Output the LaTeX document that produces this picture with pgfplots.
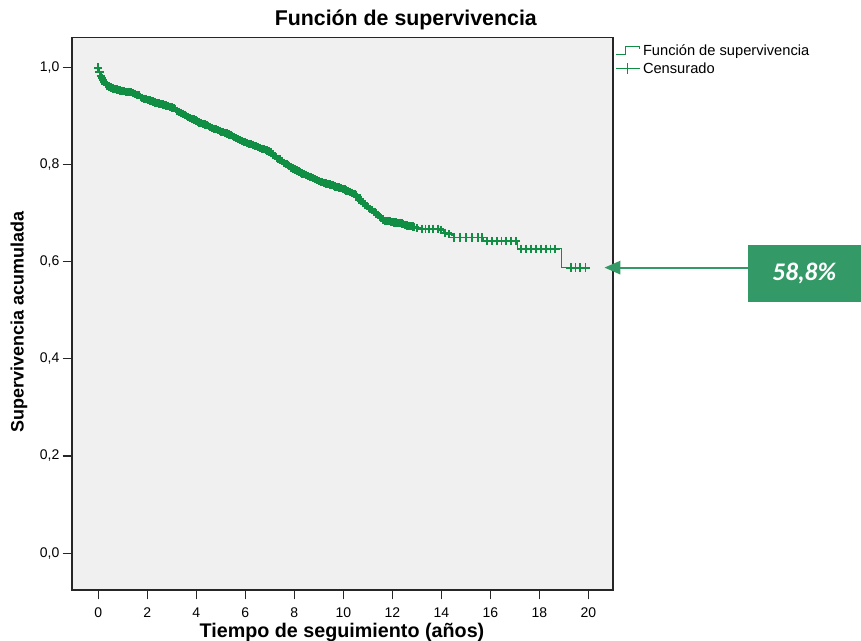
\documentclass[border=0pt]{standalone}
\usepackage{pgfplots}
\pgfplotsset{compat=1.18}
\usetikzlibrary{arrows.meta}
\usepackage{fontspec}
\setmainfont{Liberation Sans}
\newfontfamily\carlito{Carlito}
\definecolor{kmgreen}{RGB}{16,142,68}
\definecolor{boxgreen}{RGB}{51,153,102}
\definecolor{bgray}{RGB}{240,240,240}
\begin{document}
\begin{tikzpicture}
\begin{axis}[
  name=ax,
  scale only axis, width=405.75pt, height=414.4pt,
  xmin=-1.07, xmax=21, ymin=-0.076, ymax=1.062,
  clip=false,
  axis background/.style={fill=bgray},
  axis line style={line width=1.1pt, black!85},
  xtick={0,2,4,6,8,10,12,14,16,18,20},
  ytick={0,0.2,0.4,0.6,0.8,1.0},
  xtick pos=lower, ytick pos=left,
  tick align=outside, major tick length=7pt,
  tick style={line width=0.9pt, black!85},
  /pgf/number format/assume math mode=true,
  ticklabel style={font=\fontsize{10.5}{12}\selectfont},
  xticklabel style={yshift=-3pt},
  yticklabel style={xshift=1pt, /pgf/number format/.cd, use comma, fixed, fixed zerofill, precision=1},
  xlabel={Tiempo de seguimiento (años)},
  ylabel={Supervivencia acumulada},
  xlabel style={font=\bfseries\fontsize{14.8}{16}\selectfont, at={(axis description cs:0.499,-0.077)}, anchor=center},
  ylabel style={font=\bfseries\fontsize{13.5}{16}\selectfont, at={(axis description cs:-0.098,0.485)}, anchor=center},
  every axis title shift=0pt,
  title={Función de supervivencia},
  title style={font=\bfseries\fontsize{16}{18}\selectfont, at={(axis description cs:0.617,1.0317)}, anchor=center},
  legend style={at={(axis description cs:1.0037,0.993)}, anchor=north west, draw=none, fill=none,
    font=\fontsize{11}{12}\selectfont, inner sep=0pt, row sep=0pt, cells={anchor=west}},
  legend cell align=left,
]
\addplot[kmgreen, line width=0.8pt, const plot,
  legend image code/.code={\draw[kmgreen, line width=0.8pt] (0pt,-3pt) -- (7pt,-3pt) -- (7pt,3pt) -- (18pt,3pt) -- (18pt,1pt);}]
coordinates {
(0,1.000) (0.05,0.990) (0.1,0.982) (0.2,0.972) (0.3,0.966) (0.45,0.960) (0.63,0.956) (0.8,0.953)
(1.03,0.951) (1.44,0.948) (1.65,0.943) (1.85,0.937) (2.1,0.932) (2.39,0.927) (2.7,0.923) (2.94,0.920)
(3.15,0.914) (3.35,0.908) (3.55,0.902) (3.76,0.896) (4.0,0.890) (4.30,0.884) (4.55,0.878) (4.84,0.872)
(5.1,0.866) (5.39,0.861) (5.6,0.855) (5.80,0.850) (6.05,0.845) (6.34,0.840) (6.7,0.833) (7.02,0.826)
(7.2,0.818) (7.43,0.809) (7.7,0.800) (7.97,0.791) (8.25,0.784) (8.52,0.778) (8.8,0.771) (9.06,0.765)
(9.3,0.761) (9.60,0.757) (9.9,0.752) (10.15,0.747) (10.49,0.738) (10.69,0.726) (10.9,0.716) (11.10,0.709)
(11.3,0.700) (11.51,0.692) (11.65,0.684) (12.3,0.680) (12.87,0.671) (13.2,0.668) (14.1,0.660) (14.4,0.654)
(14.5,0.650) (15.7,0.643) (17.1,0.627) (18.88,0.588) (19.98,0.588)
};
\addlegendentry{Función de supervivencia}
\addplot[kmgreen, only marks, mark=+, mark size=3.1pt, mark options={line width=1.4pt},
  legend image code/.code={\draw[kmgreen, line width=0.8pt] (0pt,0pt) -- (18pt,0pt); \draw[kmgreen, line width=0.8pt] (9pt,-4pt) -- (9pt,4pt);}]
coordinates {
(0.0,1.000) (0.1,0.982) (0.2,0.974) (0.3,0.966) (0.45,0.961) (0.6,0.957) (0.75,0.955) (0.9,0.953)
(1.05,0.951) (1.2,0.950) (1.35,0.949) (1.5,0.946) (1.65,0.943) (1.8,0.938) (1.95,0.935) (2.1,0.932)
(2.25,0.930) (2.4,0.927) (2.55,0.925) (2.7,0.923) (2.85,0.921) (3.0,0.918) (3.15,0.914) (3.3,0.909)
(3.45,0.905) (3.6,0.901) (3.75,0.896) (3.9,0.893) (4.05,0.889) (4.2,0.886) (4.35,0.883) (4.5,0.880)
(4.65,0.876) (4.8,0.873) (4.95,0.870) (5.1,0.867) (5.25,0.864) (5.4,0.861) (5.55,0.857) (5.7,0.853)
(5.85,0.849) (6.0,0.846) (6.15,0.843) (6.3,0.841) (6.45,0.838) (6.6,0.835) (6.75,0.832) (6.9,0.829)
(7.05,0.825) (7.2,0.818) (7.35,0.812) (7.5,0.807) (7.65,0.802) (7.8,0.797) (7.95,0.792) (8.1,0.788)
(8.25,0.784) (8.4,0.781) (8.55,0.777) (8.7,0.774) (8.85,0.770) (9.0,0.766) (9.15,0.764) (9.3,0.761)
(9.45,0.759) (9.6,0.757) (9.75,0.754) (9.9,0.752) (10.05,0.749) (10.2,0.746) (10.35,0.742) (10.5,0.738)
(10.65,0.728) (10.8,0.722) (10.95,0.715) (11.1,0.709) (11.25,0.703) (11.4,0.697) (11.55,0.690) (11.7,0.684)
(11.85,0.684) (12.0,0.682) (12.15,0.681) (12.3,0.680) (12.45,0.678) (12.6,0.675) (12.75,0.673) (12.9,0.671)
(13.0,0.670) (13.2,0.668) (13.35,0.668) (13.5,0.668) (13.65,0.668) (13.85,0.668) (14.0,0.666)
(14.15,0.660) (14.3,0.657) (14.5,0.650) (14.75,0.650) (15.0,0.650) (15.25,0.650) (15.5,0.650) (15.65,0.650)
(15.85,0.643) (16.05,0.643) (16.25,0.643) (16.45,0.643) (16.65,0.643) (16.85,0.643) (17.05,0.643)
(17.25,0.627) (17.45,0.627) (17.65,0.627) (17.85,0.627) (18.05,0.627) (18.25,0.627) (18.45,0.627) (18.65,0.627)
(19.27,0.588) (19.47,0.588) (19.67,0.588) (19.88,0.588)
(0.05,0.990) (0.15,0.978) (0.25,0.970) (0.375,0.963) (0.525,0.959) (0.675,0.956) (0.825,0.954) (0.975,0.952)
(1.125,0.950) (1.275,0.949) (1.425,0.947) (1.575,0.944) (1.725,0.940) (1.875,0.936) (2.025,0.933) (2.175,0.931)
(2.325,0.928) (2.475,0.926) (2.625,0.924) (2.775,0.922) (2.925,0.919) (3.075,0.916) (3.225,0.911) (3.375,0.907)
(3.525,0.903) (3.675,0.898) (3.825,0.894) (3.975,0.891) (4.125,0.887) (4.275,0.884) (4.425,0.881) (4.575,0.878)
(4.725,0.874) (4.875,0.871) (5.025,0.868) (5.175,0.865) (5.325,0.862) (5.475,0.859) (5.625,0.855) (5.775,0.851)
(5.925,0.847) (6.075,0.844) (6.225,0.842) (6.375,0.839) (6.525,0.836) (6.675,0.833) (6.825,0.830) (6.975,0.827)
(7.125,0.821) (7.275,0.815) (7.425,0.809) (7.575,0.804) (7.725,0.799) (7.875,0.794) (8.025,0.790) (8.175,0.786)
(8.325,0.782) (8.475,0.779) (8.625,0.775) (8.775,0.772) (8.925,0.768) (9.075,0.765) (9.225,0.762) (9.375,0.760)
(9.525,0.758) (9.675,0.755) (9.825,0.753) (9.975,0.750) (10.125,0.747) (10.275,0.744) (10.425,0.740) (10.575,0.733)
(10.725,0.725) (10.875,0.718) (11.025,0.712) (11.175,0.706) (11.325,0.700) (11.475,0.693) (11.625,0.687) (11.775,0.684)
(11.925,0.683) (12.075,0.681) (12.225,0.680) (12.375,0.679) (12.525,0.676) (12.675,0.674) (12.825,0.672)
};
\addlegendentry{Censurado}
\draw[boxgreen, line width=1.5pt, -{Triangle[length=12pt,width=10pt]}] (axis cs:26.49,0.588) -- (axis cs:20.65,0.588);
\node[fill=boxgreen, minimum width=84.75pt, minimum height=42.75pt, inner sep=0pt, text=white,
  font=\carlito\bfseries\itshape\fontsize{19}{22}\selectfont] at (axis cs:28.80,0.575) {58,8\%};
\end{axis}
\pgfresetboundingbox
\useasboundingbox (ax.south west) ++(-54pt,-37.5pt) rectangle ++(645.75pt,480pt);
\end{tikzpicture}
\end{document}
